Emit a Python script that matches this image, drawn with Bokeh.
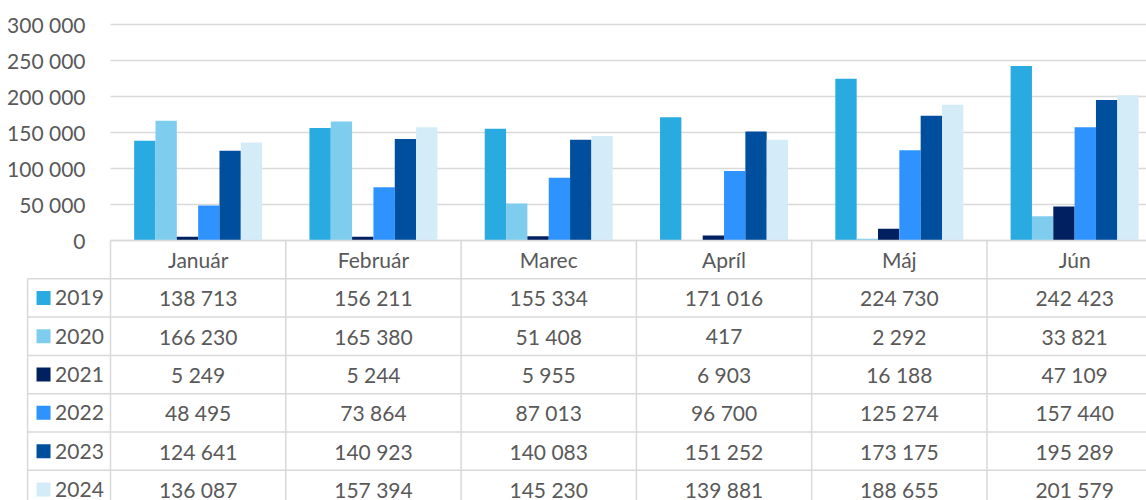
from bokeh.plotting import figure
from bokeh.models import ColumnDataSource, Range1d, LinearAxis, FixedTicker, CustomJSTickFormatter
from bokeh.core.properties import value
from bokeh.embed import file_html
from bokeh.resources import INLINE

months = ["Január", "Február", "Marec", "Apríl", "Máj", "Jún"]
years = ["2019", "2020", "2021", "2022", "2023", "2024"]
v2019 = [138713, 156211, 155334, 171016, 224730, 242423]
v2020 = [166230, 165380, 51408, 417, 2292, 33821]
v2021 = [5249, 5244, 5955, 6903, 16188, 47109]
v2022 = [48495, 73864, 87013, 96700, 125274, 157440]
v2023 = [124641, 140923, 140083, 151252, 173175, 195289]
v2024 = [136087, 157394, 145230, 139881, 188655, 201579]
series = [v2019, v2020, v2021, v2022, v2023, v2024]
colors = ["#29ABE2", "#7FCDEE", "#002060", "#2E93FF", "#004E9E", "#D4ECF8"]
y_ticks = [0, 50000, 100000, 150000, 200000, 250000, 300000]

FONT = value("Lato")
FS = "21px"
TXT = "#595959"
GRID = "#D9D9D9"


def fmt(v):
    return f"{v:,}".replace(",", " ")


p = figure(width=1146, height=500,
           x_range=Range1d(-0.6275, 5.910), y_range=Range1d(-361111, 333333),
           output_backend="svg", toolbar_location=None,
           x_axis_location=None, y_axis_location=None,
           min_border=0, outline_line_color=None)
p.grid.visible = False
p.extra_y_ranges = {"table": Range1d(start=6.789, end=-6.266)}

n = len(months)
ncol = len(years)
bw = 0.1217

# gridlines (plot area)
p.segment(x0=[0] * len(y_ticks), x1=[7] * len(y_ticks), y0=y_ticks, y1=y_ticks,
          line_color=GRID, line_width=1.5)

# bars
for j, (yr, vals, c) in enumerate(zip(years, series, colors)):
    xs = [i + 0.5 + (j - (ncol - 1) / 2) * bw for i in range(n)]
    src = ColumnDataSource(dict(x=xs, top=vals))
    p.vbar(x="x", top="top", bottom=0, width=bw, source=src,
           fill_color=c, line_color=None)

# y axis
ax = LinearAxis(ticker=FixedTicker(ticks=y_ticks), fixed_location=0,
                formatter=CustomJSTickFormatter(
                    code="return tick.toString().replace(/\\B(?=(\\d{3})+(?!\\d))/g, ' ');"),
                axis_line_color=None, major_tick_line_color=None,
                minor_tick_line_color=None, major_label_standoff=19,
                major_label_text_font="Lato", major_label_text_font_size=FS,
                major_label_text_color=TXT)
p.add_layout(ax, "left")

# table grid
left_col = -0.473
hx0 = [0] + [left_col] * ncol
hx1 = [7] * (ncol + 1)
hy = list(range(ncol + 1))
p.segment(x0=hx0, x1=hx1, y0=hy, y1=hy, y_range_name="table",
          line_color=GRID, line_width=1.5)
vx = list(range(n)) + [left_col]
vy0 = [0] * n + [1]
vy1 = [ncol + 2] * (n + 1)
p.segment(x0=vx, x1=vx, y0=vy0, y1=vy1, y_range_name="table",
          line_color=GRID, line_width=1.5)

# header
p.text(x=[i + 0.5 for i in range(n)], y=[0.5] * n, text=months, y_range_name="table",
       text_align="center", text_baseline="middle", text_font=FONT,
       text_font_size=FS, text_color=TXT)

# values
tx, ty, tt = [], [], []
for j, vals in enumerate(series):
    for i, v in enumerate(vals):
        tx.append(i + 0.5)
        ty.append(j + 1.5)
        tt.append(fmt(v))
p.text(x=tx, y=ty, text=tt, y_range_name="table",
       text_align="center", text_baseline="middle", text_font=FONT,
       text_font_size=FS, text_color=TXT)

# legend keys
ry = [j + 1.5 for j in range(ncol)]
p.scatter(x=[-0.382] * ncol, y=ry, marker="square", size=14, fill_color=colors,
          line_color=None, y_range_name="table")
p.text(x=[-0.316] * ncol, y=ry, text=years, y_range_name="table",
       text_align="left", text_baseline="middle", text_font=FONT,
       text_font_size=FS, text_color=TXT)

open("out.html", "w").write(file_html(p, INLINE))
